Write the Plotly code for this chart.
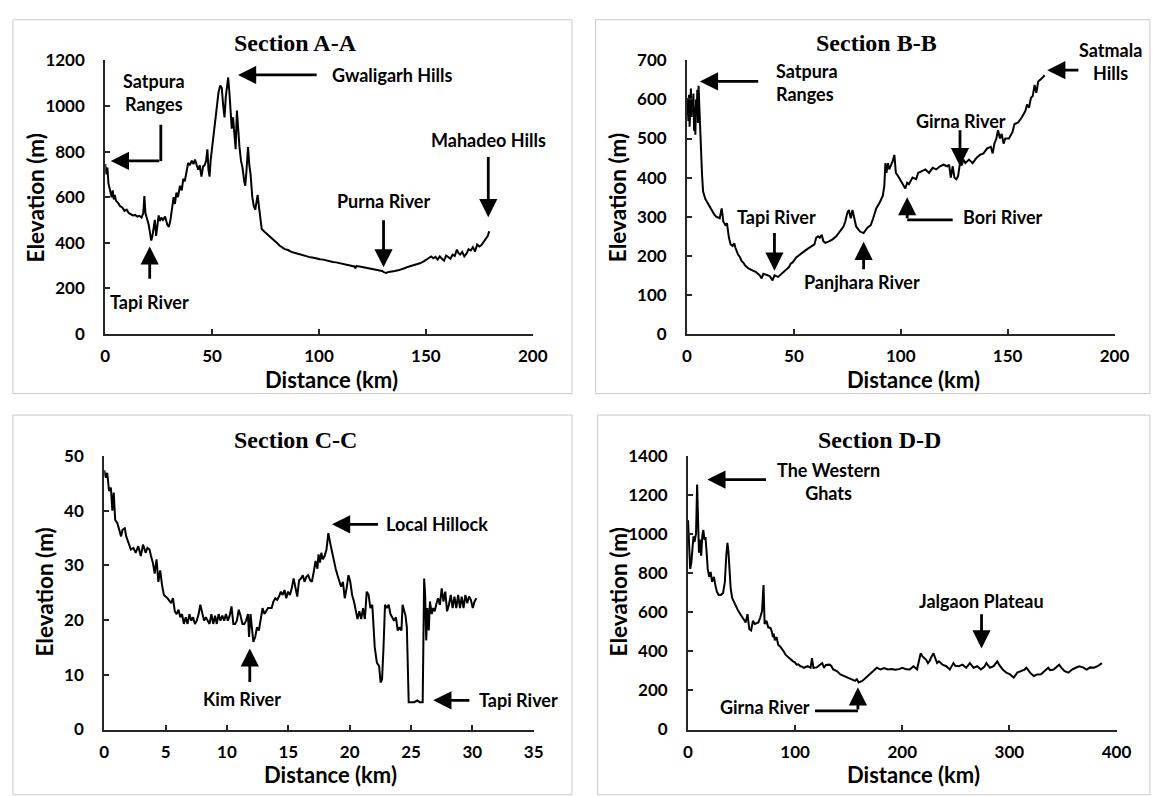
import plotly.graph_objects as go

# ---------------------------------------------------------------
# Elevation profiles (distance in km, elevation in m)
# ---------------------------------------------------------------
SECTION_A = [
    (0, 745), (0.5, 700), (1.0, 730), (1.5, 660), (2.0, 640), (2.5, 620), (3.0, 600),
    (3.5, 630), (4.0, 590), (4.5, 610), (5.0, 585), (6.0, 575), (7.0, 560), (8.0, 555),
    (9.0, 540), (10.0, 545), (11.0, 530), (12.0, 525), (13.0, 520), (14.0, 522),
    (15.0, 515), (16.0, 518), (17.0, 510), (17.8, 530), (18.3, 605), (18.8, 530),
    (19.5, 505), (20.3, 480), (21.0, 440), (21.5, 410), (22.0, 425), (22.6, 470),
    (23.2, 500), (23.8, 430), (24.4, 470), (25.0, 520), (25.6, 495), (26.2, 510),
    (27.0, 500), (28.0, 515), (29.0, 480), (29.8, 470), (30.5, 500), (31.2, 560),
    (32.0, 600), (32.6, 570), (33.3, 620), (34.0, 600), (35.0, 650), (35.8, 630),
    (36.5, 680), (37.2, 670), (38.0, 720), (38.8, 750), (39.6, 740), (40.5, 760),
    (41.3, 745), (42.0, 765), (42.8, 740), (43.5, 720), (44.2, 740), (45.0, 690),
    (45.8, 735), (46.5, 740), (47.2, 760), (47.8, 810), (48.3, 720), (48.8, 690),
    (49.3, 760), (50.0, 820), (50.8, 900), (51.5, 940), (52.3, 1010), (53.0, 1060),
    (53.8, 1090), (54.5, 1080), (55.2, 1000), (55.8, 950), (56.4, 1040), (57.0, 1100),
    (57.5, 1125), (58.0, 1070), (58.6, 990), (59.2, 900), (59.8, 950), (60.4, 860),
    (61.0, 810), (61.6, 980), (62.2, 870), (62.8, 820), (63.5, 760), (64.2, 730),
    (65.0, 670), (65.5, 650), (66.1, 720), (66.8, 820), (67.4, 740), (68.0, 700),
    (68.8, 600), (69.5, 560), (70.2, 545), (70.8, 590), (71.3, 610), (71.9, 560),
    (72.5, 500), (73.2, 460), (74.5, 448), (75.5, 440), (76.5, 432), (77.5, 424),
    (78.5, 418), (79.5, 410), (80.5, 398), (81.5, 388), (82.5, 382), (84.0, 372),
    (85.5, 368), (87.0, 360), (88.5, 356), (90.0, 352), (91.5, 348), (93.0, 342),
    (94.5, 340), (96.0, 336), (97.5, 334), (99.0, 330), (100.5, 328), (102.0, 326),
    (103.5, 322), (105.0, 320), (106.5, 316), (108.0, 314), (109.5, 311), (111.0, 309),
    (112.5, 306), (114.0, 303), (115.5, 300), (116.5, 296), (117.0, 288), (117.5, 298),
    (119.0, 296), (120.5, 293), (122.0, 290), (123.5, 287), (125.0, 284), (126.5, 281),
    (128.0, 278), (129.5, 276), (130.5, 270), (131.5, 268), (132.5, 272), (134.0, 273),
    (135.5, 276), (137.0, 279), (138.5, 282), (140.0, 288), (141.5, 294), (143.0, 298),
    (144.5, 303), (146.0, 306), (147.5, 311), (149.0, 318), (150.5, 326), (151.5, 335),
    (152.5, 340), (153.5, 332), (154.5, 338), (155.5, 326), (156.5, 340), (157.5, 330),
    (158.5, 322), (159.5, 344), (160.5, 336), (161.5, 330), (162.5, 348), (163.5, 342),
    (164.5, 370), (165.2, 355), (166.0, 348), (167.0, 360), (168.0, 340), (169.0, 352),
    (170.0, 372), (171.0, 366), (172.0, 380), (173.0, 362), (174.0, 392), (175.0, 384),
    (176.0, 390), (177.0, 402), (178.0, 415), (179.0, 430), (179.6, 450),
]

SECTION_B = [
    (0, 560), (0.3, 600), (0.6, 545), (0.9, 612), (1.2, 530), (1.5, 590), (1.8, 628),
    (2.1, 555), (2.4, 600), (2.7, 570), (3.0, 615), (3.3, 520), (3.6, 580), (3.9, 510),
    (4.2, 600), (4.5, 560), (4.8, 625), (5.1, 540), (5.4, 635), (5.7, 590), (6.0, 545),
    (6.3, 480), (6.6, 450), (7.0, 410), (7.5, 365), (8.5, 346), (9.3, 338), (10.2, 329),
    (11.0, 322), (11.9, 312), (12.7, 306), (13.6, 300), (14.5, 298), (15.3, 296),
    (16.2, 321), (16.6, 300), (17.0, 287), (17.9, 279), (18.7, 283), (19.6, 246),
    (20.4, 229), (21.3, 225), (22.1, 232), (22.6, 221), (23.8, 204), (24.6, 198),
    (25.5, 187), (26.4, 182), (27.2, 175), (28.9, 167), (30.6, 162), (32.3, 158),
    (34.0, 150), (34.9, 142), (35.7, 154), (37.4, 150), (38.7, 148), (40.0, 137),
    (40.9, 150), (42.6, 146), (44.3, 154), (46.0, 162), (47.7, 171), (48.5, 180),
    (49.4, 183), (51.1, 196), (52.8, 204), (54.5, 210), (56.2, 217), (57.9, 222),
    (59.6, 229), (60.4, 246), (61.3, 250), (62.1, 246), (63.0, 254), (63.8, 237),
    (64.7, 233), (66.4, 237), (68.1, 242), (69.8, 250), (71.5, 262), (73.2, 275),
    (74.0, 287), (74.9, 308), (75.7, 317), (76.6, 296), (77.4, 317), (78.3, 292),
    (79.1, 275), (80.9, 262), (82.6, 258), (84.3, 271), (86.0, 279), (87.1, 296),
    (88.5, 321), (90.2, 337), (91.6, 354), (92.3, 379), (92.8, 437), (93.3, 412),
    (94.0, 437), (94.6, 421), (95.3, 429), (96.2, 442), (97.0, 458), (97.7, 412),
    (98.7, 404), (100.4, 387), (102.1, 372), (103.0, 387), (103.8, 383), (105.5, 400),
    (107.2, 396), (108.1, 412), (109.8, 417), (111.5, 421), (113.2, 412), (114.9, 425),
    (116.6, 421), (118.3, 429), (120.0, 433), (121.7, 429), (122.6, 433), (123.4, 400),
    (124.3, 429), (125.1, 400), (126.0, 396), (126.8, 404), (127.7, 437), (128.5, 433),
    (129.4, 446), (130.2, 437), (131.9, 446), (133.6, 437), (135.3, 450), (137.0, 458),
    (138.7, 462), (140.4, 475), (142.1, 479), (143.0, 462), (143.8, 487), (144.7, 500),
    (145.5, 521), (146.4, 500), (147.2, 512), (148.1, 487), (148.9, 500), (150.6, 500),
    (152.3, 517), (153.2, 537), (154.9, 541), (156.6, 554), (158.3, 571), (159.1, 587),
    (160.0, 579), (160.9, 604), (161.7, 608), (162.6, 637), (163.4, 617), (164.3, 646),
    (166.0, 654), (167.3, 662),
]

SECTION_C = [
    (0.00, 47.4), (0.12, 46.0), (0.24, 46.9), (0.39, 43.6), (0.54, 44.2), (0.66, 40.0),
    (0.77, 43.3), (0.89, 38.3), (1.07, 37.7), (1.19, 36.5), (1.37, 35.3), (1.49, 36.5),
    (1.67, 36.8), (1.79, 35.3), (1.97, 34.1), (2.17, 32.9), (2.38, 33.2), (2.56, 32.3),
    (2.77, 33.5), (2.98, 31.7), (3.16, 33.8), (3.37, 32.3), (3.52, 33.2), (3.69, 32.9),
    (3.81, 31.7), (3.96, 30.5), (4.11, 28.5), (4.26, 31.1), (4.41, 27.0), (4.56, 29.1),
    (4.71, 26.4), (4.86, 24.6), (5.00, 24.3), (5.15, 24.0), (5.45, 23.1), (5.60, 24.0),
    (5.75, 21.6), (5.90, 21.1), (6.05, 21.9), (6.20, 20.5), (6.34, 21.1), (6.49, 19.3),
    (6.64, 20.5), (6.79, 19.3), (6.94, 21.1), (7.09, 19.9), (7.24, 20.5), (7.39, 19.3),
    (7.54, 19.9), (7.69, 21.1), (7.83, 22.8), (7.98, 21.4), (8.13, 19.9), (8.28, 20.5),
    (8.43, 19.9), (8.58, 19.3), (8.73, 21.1), (8.88, 19.3), (9.03, 20.8), (9.17, 19.3),
    (9.32, 21.1), (9.47, 19.9), (9.62, 20.8), (9.77, 19.9), (9.92, 21.1), (10.07, 19.9),
    (10.22, 20.8), (10.37, 22.5), (10.52, 19.3), (10.66, 19.3), (10.81, 19.9),
    (10.96, 21.9), (11.11, 20.8), (11.26, 19.3), (11.41, 19.3), (11.56, 19.9),
    (11.71, 21.1), (11.80, 16.9), (11.92, 21.1), (12.03, 18.7), (12.15, 16.0),
    (12.30, 16.9), (12.45, 18.7), (12.60, 18.1), (12.75, 19.9), (12.90, 22.2),
    (13.05, 21.1), (13.20, 21.6), (13.35, 22.2), (13.64, 22.2), (13.79, 23.4),
    (13.94, 24.0), (14.09, 23.7), (14.24, 24.3), (14.39, 25.2), (14.54, 24.6),
    (14.69, 25.5), (14.83, 24.0), (14.98, 25.2), (15.13, 24.6), (15.28, 25.8),
    (15.43, 27.6), (15.58, 25.8), (15.73, 24.3), (15.88, 27.3), (16.03, 27.6),
    (16.18, 28.2), (16.32, 27.0), (16.47, 27.9), (16.62, 28.2), (16.77, 27.3),
    (16.92, 27.0), (17.07, 28.8), (17.22, 30.8), (17.37, 29.4), (17.46, 32.0),
    (17.58, 30.5), (17.69, 32.3), (17.81, 31.1), (17.96, 31.7), (18.11, 32.9),
    (18.26, 35.9), (18.41, 34.1), (18.56, 32.3), (18.71, 31.1), (18.86, 29.4),
    (19.01, 28.2), (19.15, 27.0), (19.30, 26.1), (19.45, 27.0), (19.60, 24.0),
    (19.75, 25.8), (19.90, 28.2), (20.05, 27.0), (20.20, 24.6), (20.35, 23.4),
    (20.49, 21.6), (20.64, 20.2), (20.79, 21.6), (20.94, 20.2), (21.09, 22.2),
    (21.24, 20.2), (21.39, 25.2), (21.54, 24.6), (21.69, 22.2), (21.84, 22.8),
    (21.92, 19.9), (22.04, 15.1), (22.22, 12.2), (22.40, 11.6), (22.52, 8.6),
    (22.64, 9.2), (22.76, 15.1), (22.88, 22.8), (23.03, 22.2), (23.18, 22.8),
    (23.32, 21.1), (23.47, 20.5), (23.62, 19.9), (23.77, 20.5), (23.92, 18.1),
    (24.07, 18.7), (24.22, 18.1), (24.31, 22.8), (24.43, 21.6), (24.55, 20.8),
    (24.66, 18.7), (24.81, 5.0), (24.96, 5.0), (25.26, 5.0), (25.50, 5.3),
    (25.71, 5.0), (25.95, 5.0), (26.07, 27.6), (26.15, 24.6), (26.24, 16.3),
    (26.33, 22.2), (26.45, 18.1), (26.54, 23.4), (26.69, 21.1), (26.81, 22.2),
    (26.93, 21.6), (27.05, 22.8), (27.20, 24.0), (27.35, 22.8), (27.50, 25.8),
    (27.64, 23.4), (27.79, 25.2), (27.94, 21.6), (28.09, 22.8), (28.24, 24.6),
    (28.39, 22.2), (28.54, 24.3), (28.69, 22.2), (28.84, 24.6), (28.99, 22.2),
    (29.13, 24.3), (29.28, 22.2), (29.43, 24.6), (29.58, 23.1), (29.73, 24.3),
    (29.88, 23.7), (30.03, 22.2), (30.18, 23.4), (30.33, 24.0),
]

SECTION_D = [
    (0, 1071), (1.0, 955), (2.0, 822), (3.1, 855), (4.1, 955), (5.1, 988), (6.1, 960),
    (7.5, 1005), (8.5, 1254), (9.2, 1021), (10.2, 905), (11.2, 972), (12.3, 889),
    (13.3, 988), (14.3, 1021), (15.3, 972), (16.3, 985), (17.4, 905), (18.4, 822),
    (19.7, 781), (21.1, 806), (22.5, 756), (24.2, 781), (25.5, 739), (26.9, 706),
    (28.6, 689), (30.6, 689), (32.7, 698), (34.4, 756), (35.7, 889), (36.8, 955),
    (37.8, 905), (38.8, 806), (39.8, 723), (41.2, 673), (43.6, 639), (45.3, 625),
    (47.0, 606), (48.7, 592), (50.4, 573), (52.1, 562), (53.8, 548), (55.5, 590),
    (57.2, 515), (58.9, 507), (60.6, 556), (62.3, 540), (64.0, 545), (65.7, 548),
    (67.4, 573), (69.1, 606), (70.5, 739), (71.5, 540), (73.2, 556), (74.9, 523),
    (76.9, 520), (78.0, 505), (79.3, 473), (80.0, 490), (81.0, 457), (82.7, 473),
    (83.5, 450), (84.4, 432), (86.0, 425), (87.8, 407), (89.5, 398), (91.2, 382),
    (93.0, 372), (94.6, 365), (96.0, 360), (98.0, 349), (99.5, 345), (101.4, 332),
    (103.0, 334), (104.9, 324), (106.5, 322), (108.3, 316), (111.7, 324), (114.4, 316),
    (115.7, 365), (117.1, 316), (120.2, 318), (123.6, 332), (125.3, 340), (127.0, 316),
    (128.7, 330), (132.1, 332), (133.8, 325), (135.5, 307), (138.9, 299), (142.3, 282),
    (145.7, 274), (149.1, 266), (152.5, 257), (155.9, 249), (157.6, 257), (159.3, 241),
    (162.7, 249), (166.1, 266), (169.5, 282), (172.9, 299), (176.3, 316), (179.7, 307),
    (183.1, 314), (186.6, 307), (190.0, 310), (193.4, 306), (196.8, 309), (200.2, 316),
    (203.6, 308), (207.0, 307), (210.4, 324), (213.8, 308), (217.2, 390), (218.9, 374),
    (220.6, 365), (222.3, 357), (224.0, 340), (225.7, 352), (227.4, 374), (229.1, 390),
    (230.8, 365), (232.5, 340), (234.2, 349), (237.6, 332), (241.0, 324), (244.4, 307),
    (247.8, 340), (249.5, 326), (252.9, 324), (256.3, 332), (259.7, 316), (263.1, 340),
    (266.6, 316), (270.0, 324), (273.4, 307), (276.8, 322), (278.5, 340), (281.9, 316),
    (285.3, 324), (288.7, 349), (290.4, 332), (293.8, 307), (297.2, 291), (300.6, 282),
    (304.0, 266), (307.4, 291), (310.8, 299), (314.2, 307), (315.9, 316), (319.3, 291),
    (322.7, 274), (326.1, 282), (329.5, 283), (332.9, 299), (336.3, 316), (338.0, 304),
    (341.4, 307), (344.8, 324), (346.5, 332), (348.2, 318), (351.6, 299), (355.1, 291),
    (358.5, 307), (361.9, 316), (365.3, 324), (368.7, 318), (372.1, 307), (375.5, 318),
    (378.9, 316), (382.3, 324), (384.0, 332), (386.4, 340),
]

SECTION_TITLES = ["Section A-A", "Section B-B", "Section C-C", "Section D-D"]
X_RANGES = [(0, 200, 50), (0, 200, 50), (0, 35, 5), (0, 400, 100)]
Y_RANGES = [(0, 1200, 200), (0, 700, 100), (0, 50, 10), (0, 1400, 200)]

W, H = 1160, 796
SANS = "Lato, 'Open Sans', sans-serif"
SERIF = "'Liberation Serif', 'Times New Roman', serif"

# plot-area boxes in pixels: (left, right, top, bottom)
BOXES = [(102, 537, 50.7, 331.7), (694, 1129, 50.7, 331.7),
         (101, 538, 457, 738), (695, 1131, 457, 738)]
# panel outlines in pixels: (left, right, top, bottom)
FRAMES = [(8, 577, 9, 393), (601, 1165, 9, 393), (8, 577, 415, 805), (603, 1165, 415, 805)]
# title / axis-title positions in pixels
TITLE_POS = [(296, 33), (887, 33), (296, 441), (890, 441)]
XTITLE_POS = [(332, 378), (924, 378), (331, 784), (924, 784)]
YTITLE_POS = [(31, 192), (624, 192), (40, 597), (624, 597)]


def px(x):
    return x / W


def py(y):
    return 1 - y / H


fig = go.Figure()
layout = dict(
    width=W, height=H, margin=dict(l=0, r=0, t=0, b=0),
    paper_bgcolor="white", plot_bgcolor="white", showlegend=False,
)

profiles = [SECTION_A, SECTION_B, SECTION_C, SECTION_D]
annotations = []
shapes = []

for i, prof in enumerate(profiles):
    n = "" if i == 0 else str(i + 1)
    dist = [p[0] for p in prof]
    elev = [p[1] for p in prof]
    fig.add_trace(go.Scatter(
        x=dist, y=elev, mode="lines", xaxis="x" + n, yaxis="y" + n,
        line=dict(color="black", width=2), hoverinfo="skip",
    ))
    l, r, t, b = BOXES[i]
    x0, x1, xd = X_RANGES[i]
    y0, y1, yd = Y_RANGES[i]
    axis_common = dict(
        showline=True, linecolor="#262626", linewidth=2,
        ticks="inside", ticklen=5, tickwidth=1.5, tickcolor="#262626",
        showgrid=False, zeroline=False, fixedrange=True,
        tickfont=dict(family=SANS, size=17, color="black", weight="bold"),
    )
    layout["xaxis" + n] = dict(
        axis_common, domain=[px(l), px(r)], range=[x0, x1], dtick=xd, tick0=0,
        anchor="y" + n, ticklabelstandoff=6,
    )
    layout["yaxis" + n] = dict(
        axis_common, domain=[py(b), py(t)], range=[y0, y1], dtick=yd, tick0=0,
        anchor="x" + n, ticklabelstandoff=15,
    )
    fl, fr, ft, fb = FRAMES[i]
    shapes.append(dict(type="rect", xref="paper", yref="paper",
                       x0=px(fl), x1=px(fr), y0=py(fb), y1=py(ft),
                       line=dict(color="#c9c9c9", width=1), layer="below"))
    tx, ty = TITLE_POS[i]
    annotations.append(dict(text="<b>%s</b>" % SECTION_TITLES[i], xref="paper", yref="paper",
                            x=px(tx), y=py(ty), showarrow=False, xanchor="center",
                            yanchor="middle", font=dict(family=SERIF, size=24, color="black")))
    tx, ty = XTITLE_POS[i]
    annotations.append(dict(text="<b>Distance (km)</b>", xref="paper", yref="paper",
                            x=px(tx), y=py(ty), showarrow=False, xanchor="center",
                            yanchor="middle", font=dict(family=SANS, size=22, color="black")))
    tx, ty = YTITLE_POS[i]
    annotations.append(dict(text="<b>Elevation (m)</b>", xref="paper", yref="paper",
                            x=px(tx), y=py(ty), showarrow=False, xanchor="center",
                            yanchor="middle", textangle=-90,
                            font=dict(family=SANS, size=22.5, color="black")))

LABEL_FONT = dict(family=SANS, size=18, color="black")


def label(panel, text, x, y, anchor="center", align="center"):
    n = "" if panel == 0 else str(panel + 1)
    annotations.append(dict(text="<b>%s</b>" % text, x=x, y=y, xref="x" + n, yref="y" + n,
                            showarrow=False, xanchor=anchor, yanchor="middle", align=align,
                            font=LABEL_FONT))


def arrow(panel, x, y, ax, ay):
    n = "" if panel == 0 else str(panel + 1)
    annotations.append(dict(text="", x=x, y=y, ax=ax, ay=ay, xref="x" + n, yref="y" + n,
                            axref="x" + n, ayref="y" + n, showarrow=True, arrowhead=2,
                            arrowsize=1.3, arrowwidth=2.8, arrowcolor="black", standoff=0))


def segment(panel, x0, y0, x1, y1):
    n = "" if panel == 0 else str(panel + 1)
    shapes.append(dict(type="line", xref="x" + n, yref="y" + n, x0=x0, y0=y0, x1=x1, y1=y1,
                       line=dict(color="black", width=2.8)))


# Section A-A labels
label(0, "Gwaligarh Hills", 134.3, 1136)
arrow(0, 62.1, 1136, 99.6, 1136)
label(0, "Satpura<br>Ranges", 23, 1060)
segment(0, 26.0, 918, 26.0, 759)
arrow(0, 2.6, 759, 26.0, 759)
label(0, "Tapi River", 20.8, 140)
arrow(0, 20.8, 384, 20.8, 235)
label(0, "Purna River", 130.4, 584)
arrow(0, 130.2, 292, 130.2, 505)
label(0, "Mahadeo Hills", 179.2, 850)
arrow(0, 179.2, 512, 179.2, 783)

# Section B-B labels
label(1, "Satpura<br>Ranges", 40.5, 644, anchor="left", align="left")
arrow(1, 6.0, 646, 34.0, 646)
label(1, "Satmala<br>Hills", 198, 698)
arrow(1, 168.5, 675, 183.8, 675)
label(1, "Girna River", 128, 546)
arrow(1, 127.7, 429, 127.7, 525)
label(1, "Tapi River", 41.9, 300)
arrow(1, 40.9, 162, 40.9, 262)
label(1, "Panjhara River", 81.7, 133)
arrow(1, 82.6, 236, 82.6, 162)
label(1, "Bori River", 147.7, 300)
segment(1, 124.3, 292, 103.0, 292)
arrow(1, 103.0, 350, 103.0, 292)

# Section C-C labels
label(2, "Local Hillock", 27.14, 37.5)
arrow(2, 18.56, 37.5, 22.43, 37.5)
label(2, "Kim River", 11.2, 5.63)
arrow(2, 11.86, 14.83, 11.86, 8.4)
label(2, "Tapi River", 33.75, 5.34)
arrow(2, 26.81, 5.34, 29.88, 5.34)

# Section D-D labels
label(3, "The Western<br>Ghats", 131, 1267)
arrow(3, 18.0, 1279, 74.2, 1279)
label(3, "Jalgaon Plateau", 274, 656)
arrow(3, 274, 415, 274, 598)
label(3, "Girna River", 71.5, 116)
segment(3, 118.5, 95, 158.6, 95)
arrow(3, 158.6, 216, 158.6, 95)

layout["annotations"] = annotations
layout["shapes"] = shapes
fig.update_layout(**layout)
fig.write_html("out.html")
